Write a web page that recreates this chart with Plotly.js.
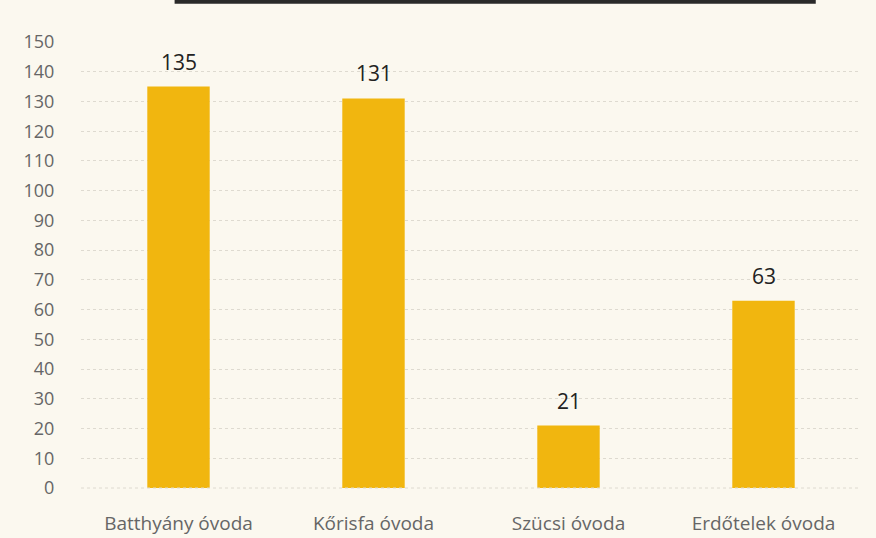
<!DOCTYPE html>
<html>
<head>
<meta charset="utf-8">
<script src="https://cdn.plot.ly/plotly-3.0.1.min.js"></script>
<style>html,body{margin:0;padding:0;background:#fbf8ef;}#chart{width:876px;height:538px;}</style>
</head>
<body>
<div id="chart"></div>
<script>
const categories = ["Batthyány óvoda", "Kőrisfa óvoda", "Szücsi óvoda", "Erdőtelek óvoda"];
const values = [135, 131, 21, 63];
const yTicks = [0, 10, 20, 30, 40, 50, 60, 70, 80, 90, 100, 110, 120, 130, 140, 150];

const trace = {
  type: "bar",
  x: categories,
  y: values,
  width: 0.32,
  marker: {color: "#f1b60f"},
  cliponaxis: false,
  hoverinfo: "none"
};

const labels = categories.map((c, i) => ({
  x: c, y: values[i], xref: "x", yref: "y",
  text: String(values[i]), showarrow: false,
  yanchor: "bottom", yshift: 9,
  font: {family: "Open Sans, sans-serif", size: 21, color: "#222222"}
}));

const layout = {
  width: 876, height: 538,
  margin: {l: 81, r: 15, t: 42, b: 50},
  paper_bgcolor: "#fbf8ef",
  plot_bgcolor: "#fbf8ef",
  showlegend: false,
  font: {family: "Open Sans, sans-serif", color: "#666666"},
  xaxis: {
    type: "category",
    range: [-0.5, 3.5],
    showgrid: false, zeroline: false, showline: false,
    ticks: "outside", ticklen: 18, tickcolor: "rgba(0,0,0,0)",
    tickfont: {size: 19, color: "#666666"}
  },
  yaxis: {
    range: [0, 150],
    tickvals: yTicks,
    ticktext: yTicks.map(String),
    showgrid: true, gridcolor: "#dedad0", gridwidth: 1, griddash: "dot",
    zeroline: false, showline: false,
    ticks: "outside", ticklen: 22, tickcolor: "rgba(0,0,0,0)",
    tickfont: {size: 18, color: "#666666"}
  },
  annotations: labels,
  shapes: [
    {type: "line", xref: "paper", yref: "paper", x0: 0, x1: 1, y0: 0, y1: 0,
     line: {color: "#dedad0", width: 1, dash: "dot"}},
    {type: "line", xref: "paper", yref: "paper", x0: 0.12, x1: 0.942, y0: 1.09, y1: 1.09,
     line: {color: "#2a2a2a", width: 4}}
  ]
};

Plotly.newPlot("chart", [trace], layout, {displayModeBar: false, staticPlot: true});
</script>
</body>
</html>
